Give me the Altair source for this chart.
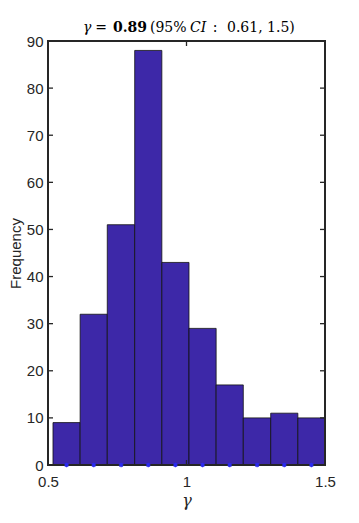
import altair as alt
import pandas as pd

# Histogram
bin_starts = [0.518, 0.616, 0.714, 0.813, 0.911, 1.009, 1.107, 1.205, 1.304, 1.402]
bin_ends = [0.616, 0.714, 0.813, 0.911, 1.009, 1.107, 1.205, 1.304, 1.402, 1.500]
counts = [9, 32, 51, 88, 43, 29, 17, 10, 11, 10]
centers = [0.567, 0.665, 0.764, 0.862, 0.960, 1.058, 1.156, 1.255, 1.353, 1.451]

x_ticks = [0.5, 1.0, 1.5]
y_ticks = [0, 10, 20, 30, 40, 50, 60, 70, 80, 90]

# Title pieces: text, style, weight, alignment, x position (px, from plot's left)
title_texts = ["γ", "=", "0.89", "(95%", "CI", ":", "0.61, 1.5)"]
title_styles = ["italic", "normal", "normal", "normal", "italic", "normal", "normal"]
title_weights = ["normal", "normal", "bold", "normal", "normal", "normal", "normal"]
title_aligns = ["left", "center", "center", "left", "left", "center", "left"]
title_x = [35, 53, 82, 102, 142, 167, 179]

W, H = 277, 424
FRAME = "#262626"

bars_df = pd.DataFrame({"start": bin_starts, "end": bin_ends, "count": counts})
stars_df = pd.DataFrame({"c": centers, "z": [0] * len(centers)})
yt_df = pd.DataFrame({"y": y_ticks})
xt_df = pd.DataFrame({"x": x_ticks})

xscale = alt.Scale(domain=[0.5, 1.5], nice=False, zero=False)
yscale = alt.Scale(domain=[0, 90], nice=False)

xaxis = alt.Axis(values=x_ticks, ticks=False, domain=False, grid=False,
                 labelFont="Liberation Sans", labelFontSize=15, labelColor=FRAME,
                 labelPadding=9, title="γ", titleFont="DejaVu Serif",
                 titleFontStyle="italic", titleFontWeight="normal", titleFontSize=16,
                 titleColor=FRAME, titlePadding=3, labelFlush=False,
                 format="~g")
yaxis = alt.Axis(values=y_ticks, ticks=False, domain=False, grid=False,
                 labelFont="Liberation Sans", labelFontSize=15, labelColor=FRAME,
                 labelPadding=5, title="Frequency", titleFont="Liberation Sans",
                 titleFontWeight="normal", titleFontSize=15, titleColor=FRAME,
                 titlePadding=3)

bars = alt.Chart(bars_df).mark_rect(color="#3D28A8", stroke="#111111", strokeWidth=0.8).encode(
    x=alt.X("start:Q", scale=xscale, axis=xaxis),
    x2="end:Q",
    y=alt.Y("count:Q", scale=yscale, axis=yaxis),
    y2=alt.datum(0),
)

star_shape = "M-1,0L1,0M0,-1L0,1M-0.7,-0.7L0.7,0.7M-0.7,0.7L0.7,-0.7"
stars = alt.Chart(stars_df).mark_point(shape=star_shape, size=22, color="#2a2af0",
                                       strokeWidth=1.2, filled=False, opacity=1).encode(
    x=alt.X("c:Q", scale=xscale),
    y=alt.Y("z:Q", scale=yscale),
)

lt = alt.Chart(yt_df).mark_rule(color=FRAME, strokeWidth=1.3).encode(
    y=alt.Y("y:Q", scale=yscale), x=alt.value(0), x2=alt.value(5))
rt = alt.Chart(yt_df).mark_rule(color=FRAME, strokeWidth=1.3).encode(
    y=alt.Y("y:Q", scale=yscale), x=alt.value(W - 5), x2=alt.value(W))
tt = alt.Chart(xt_df).mark_rule(color=FRAME, strokeWidth=1.3).encode(
    x=alt.X("x:Q", scale=xscale), y=alt.value(0), y2=alt.value(5))
bt = alt.Chart(xt_df).mark_rule(color=FRAME, strokeWidth=1.3).encode(
    x=alt.X("x:Q", scale=xscale), y=alt.value(H - 5), y2=alt.value(H))

frame = alt.Chart(xt_df).mark_rect(fill=None, stroke=FRAME, strokeWidth=2).encode(
    x=alt.value(0), x2=alt.value(W), y=alt.value(0), y2=alt.value(H))

title_layers = []
for txt, sty, wt, al, px in zip(title_texts, title_styles, title_weights, title_aligns, title_x):
    df = pd.DataFrame({"t": [txt]})
    title_layers.append(
        alt.Chart(df).mark_text(font="DejaVu Serif", fontSize=14, fontStyle=sty,
                                fontWeight=wt, align=al, baseline="alphabetic",
                                color="black").encode(
            text="t:N", x=alt.value(px), y=alt.value(-9))
    )

chart = alt.layer(bars, lt, rt, tt, bt, frame, stars, *title_layers).properties(
    width=W, height=H,
    autosize=alt.AutoSizeParams(type="none"),
    padding={"left": 40, "top": 33, "right": 26, "bottom": 50},
).configure_view(stroke=None).configure(background="white")

chart.save("out.html", embed_options={"renderer": "svg", "actions": False})
